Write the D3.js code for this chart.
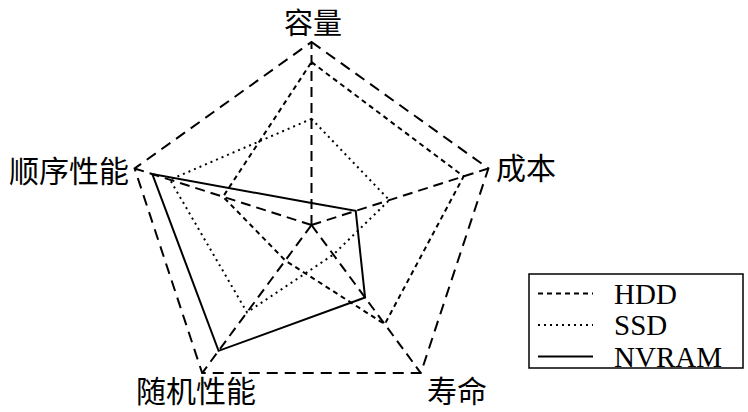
<!DOCTYPE html>
<html>
<head>
<meta charset="utf-8">
<script src="https://cdn.jsdelivr.net/npm/d3@7"></script>
<style>
  html, body { margin: 0; padding: 0; background: #fff; }
  svg { display: block; }
</style>
</head>
<body>
<svg id="chart" width="748" height="412"></svg>
<script>
// ---- data ----
const axes = ["容量", "成本", "寿命", "随机性能", "顺序性能"];
const seriesNames = ["HDD", "SSD", "NVRAM"];
const hddValues = [0.89, 0.86, 0.67, 0.24, 0.50];
const ssdValues = [0.58, 0.44, 0.20, 0.59, 0.80];
const nvramValues = [0.12, 0.25, 0.49, 0.85, 0.90];
const maxValue = 1;

// ---- layout ----
const svg = d3.select("#chart");
const cx = 311.5, cy = 225;
const rX = d3.scaleLinear().domain([0, maxValue]).range([0, 186]);
const rY = d3.scaleLinear().domain([0, maxValue]).range([0, 183]);
const angle = d3.scalePoint().domain(axes).range([0, 2 * Math.PI * (axes.length - 1) / axes.length]);

function pt(axis, v) {
  const a = angle(axis);
  return [cx + rX(v) * Math.sin(a), cy - rY(v) * Math.cos(a)];
}
const closedLine = d3.line().curve(d3.curveLinearClosed);

const g = svg.append("g");

// outer pentagon
g.append("path")
  .attr("d", closedLine(axes.map(a => pt(a, maxValue))))
  .attr("fill", "none").attr("stroke", "#000").attr("stroke-width", 2)
  .attr("stroke-dasharray", "11,7").attr("stroke-linejoin", "miter");

// spokes
g.selectAll("line.spoke").data(axes).enter().append("line")
  .attr("class", "spoke")
  .attr("x1", cx).attr("y1", cy)
  .attr("x2", d => pt(d, maxValue)[0])
  .attr("y2", d => pt(d, maxValue)[1])
  .attr("stroke", "#000").attr("stroke-width", 2)
  .attr("stroke-dasharray", "10,6");

// series
const styles = { HDD: "5,4", SSD: "2,4", NVRAM: null };
const seriesData = [hddValues, ssdValues, nvramValues];
seriesNames.forEach((name, i) => {
  const vals = seriesData[i];
  const p = g.append("path")
    .attr("d", closedLine(axes.map((a, j) => pt(a, vals[j]))))
    .attr("fill", "none").attr("stroke", "#000")
    .attr("stroke-width", 2).attr("stroke-linejoin", "miter");
  if (styles[name]) p.attr("stroke-dasharray", styles[name]);
});

// axis labels
const labelFont = "'Noto Sans CJK SC', sans-serif";
const labelPos = {
  "容量": { x: 313, y: 21, anchor: "middle", size: 29 },
  "成本": { x: 496, y: 166, anchor: "start", size: 30 },
  "寿命": { x: 457, y: 389, anchor: "middle", size: 30 },
  "随机性能": { x: 196, y: 389, anchor: "middle", size: 30 },
  "顺序性能": { x: 129, y: 169, anchor: "end", size: 30 }
};
svg.selectAll("text.axis-label").data(axes).enter().append("text")
  .attr("class", "axis-label")
  .attr("x", d => labelPos[d].x)
  .attr("y", d => labelPos[d].y)
  .attr("text-anchor", d => labelPos[d].anchor)
  .attr("dominant-baseline", "central")
  .attr("font-family", labelFont)
  .attr("font-size", d => labelPos[d].size)
  .attr("fill", "#000")
  .text(d => d);

// legend
const legend = svg.append("g");
legend.append("rect")
  .attr("x", 529).attr("y", 274).attr("width", 214).attr("height", 94)
  .attr("fill", "#fff").attr("stroke", "#000").attr("stroke-width", 1.5);
const legendY = d3.scalePoint().domain(seriesNames).range([293.5, 356.5]);
seriesNames.forEach(name => {
  const y = legendY(name);
  const l = legend.append("line")
    .attr("x1", 538).attr("x2", 593).attr("y1", y).attr("y2", y)
    .attr("stroke", "#000").attr("stroke-width", 2);
  if (styles[name]) l.attr("stroke-dasharray", styles[name]);
  legend.append("text")
    .attr("x", 614).attr("y", y + 10)
    .attr("font-family", "'Liberation Serif', serif")
    .attr("font-size", 29)
    .attr("fill", "#000")
    .text(name);
});
</script>
</body>
</html>
